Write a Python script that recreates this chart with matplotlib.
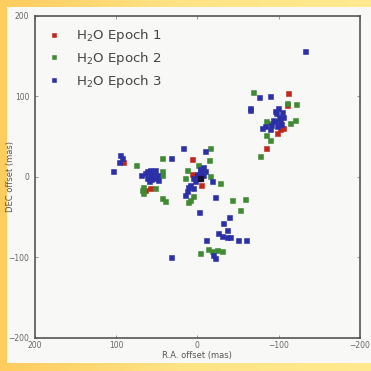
import numpy as np
import matplotlib
matplotlib.use("Agg")
import matplotlib.pyplot as plt
from matplotlib.colors import LinearSegmentedColormap
from matplotlib.patches import Rectangle

# R.A. / DEC offsets (mas), per epoch
EPOCH1_RA = [-112, -110, -106, -101.5, -97.5, -85, 91, 6, 6, -5, 58, 64.5]
EPOCH1_DEC = [104, 90, 61, 59, 54.5, 36, 19, 22, 3.5, -10, -14, -16]

EPOCH2_RA = [-68, -110, -121, -85, -89, -114, -120, -85, -89, -77,
             75, 44, 44, 44, 67, 68.5, 67, 52, 40, 44,
             -16, -14.5, 13, -1, 15, -15, -28, 5, 9, 11,
             -43, -58.5, -52, -3, -13, -17.5, -23.6, -30]
EPOCH2_DEC = [106, 92, 91, 69, 67, 67, 71, 52, 46, 26,
              15, 23.5, 3, 7, -12, -16, -20, -14, -30, -26,
              36, 21, 9, 15, -1, 0.6, -7.5, -24, -28, -31,
              -29, -27.5, -41.5, -94, -89.5, -92.5, -90.5, -91.5]

EPOCH3_RA = [-133, -76, -90, -65, -65, -99.5, -104, -106, -97, -93,
             -101.5, -91, -97.5, -89, -83, -79, -95, -100, -103, -96,
             95, 93, 97, 104, 32, 58, 52, 65, 58, 50, 62.5, 54, 48, 60, 69,
             55, 62, 57, 52,
             17.5, -9, -7, -5, -9, -7, -3, 1, 5, 9, 11, 5, 13, -17.5, 15,
             -3, -6, 0, 3,
             -21.5, -2, -39, -32, -36.5, -25.7, -30, -36, -40, -50, -60, -11,
             -19.5, -21.5, 32]
EPOCH3_DEC = [156, 99, 100, 86, 83, 85.5, 81, 75, 79, 71,
              69, 65, 63, 59, 63, 61, 70, 75, 66, 82,
              27.5, 23.5, 19, 7, 23.5, 9, 9, 5, 3, 3, -1, -1, -3.5, -5.5, 3,
              6, 8, -3, 0,
              36, 32, 13, 9, 7, 3, 7, 0.6, -1, -10, -12, -14, -18, -5.5, -22,
              10, 5, 4, -5,
              -25, -43, -50, -57, -65.5, -69.6, -73, -74, -74.6, -78, -78, -78,
              -96.5, -100.6, -100]

# dark spot at the phase centre
CENTRE_RA = [-3]
CENTRE_DEC = [-1]

SERIES = [
    (r"H$_2$O Epoch 1", EPOCH1_RA, EPOCH1_DEC, "#c0261c"),
    (r"H$_2$O Epoch 2", EPOCH2_RA, EPOCH2_DEC, "#3f8a32"),
    (r"H$_2$O Epoch 3", EPOCH3_RA, EPOCH3_DEC, "#2b30a8"),
]

fig = plt.figure(figsize=(3.71, 3.71), dpi=100)

# yellow slide background with light panel
bg = fig.add_axes([0, 0, 1, 1], zorder=-10)
grad = LinearSegmentedColormap.from_list("bg", ["#ffcc5e", "#ffe486", "#ffe98e"])
bg.imshow(np.linspace(0, 1, 256)[None, :], aspect="auto", cmap=grad,
          extent=[0, 1, 0, 1])
bg.add_patch(Rectangle((0.02, 0.022), 0.98, 0.96, color="#f8f8f6", lw=0))
bg.set_xlim(0, 1)
bg.set_ylim(0, 1)
bg.axis("off")

ax = fig.add_axes([0.094, 0.089, 0.876, 0.868])
ax.set_facecolor("#f8f8f6")
for label, ra, dec, color in SERIES:
    ax.plot(ra, dec, "s", ms=3.6, color=color, mec=color, mew=0.4,
            linestyle="none", label=label)
ax.plot(CENTRE_RA, CENTRE_DEC, "s", ms=3.6, color="#1a1030", linestyle="none")

ax.set_xlim(200, -200)
ax.set_ylim(-200, 200)
ax.set_xticks([200, 100, 0, -100, -200])
ax.set_yticks([200, 100, 0, -100, -200])
ax.tick_params(direction="in", length=2, width=0.6, color="#888",
               labelsize=5.5, labelcolor="#666", top=True, right=True)
ax.tick_params(axis="y", pad=4)
ax.tick_params(axis="x", pad=2)
for s in ax.spines.values():
    s.set_color("#555")
    s.set_linewidth(1.2)
ax.set_xlabel("R.A. offset (mas)", fontsize=6, color="#555", labelpad=1)
ax.set_ylabel("DEC offset (mas)", fontsize=6, color="#555")
ax.yaxis.set_label_coords(-0.062, 0.5)

leg = ax.legend(loc="upper left", frameon=False, fontsize=9.6,
                handlelength=1.0, handletextpad=1.15, labelspacing=0.42,
                markerscale=0.9, borderaxespad=0, labelcolor="#444",
                bbox_to_anchor=(0.023, 0.981))

fig.savefig("out.png", dpi=100)
